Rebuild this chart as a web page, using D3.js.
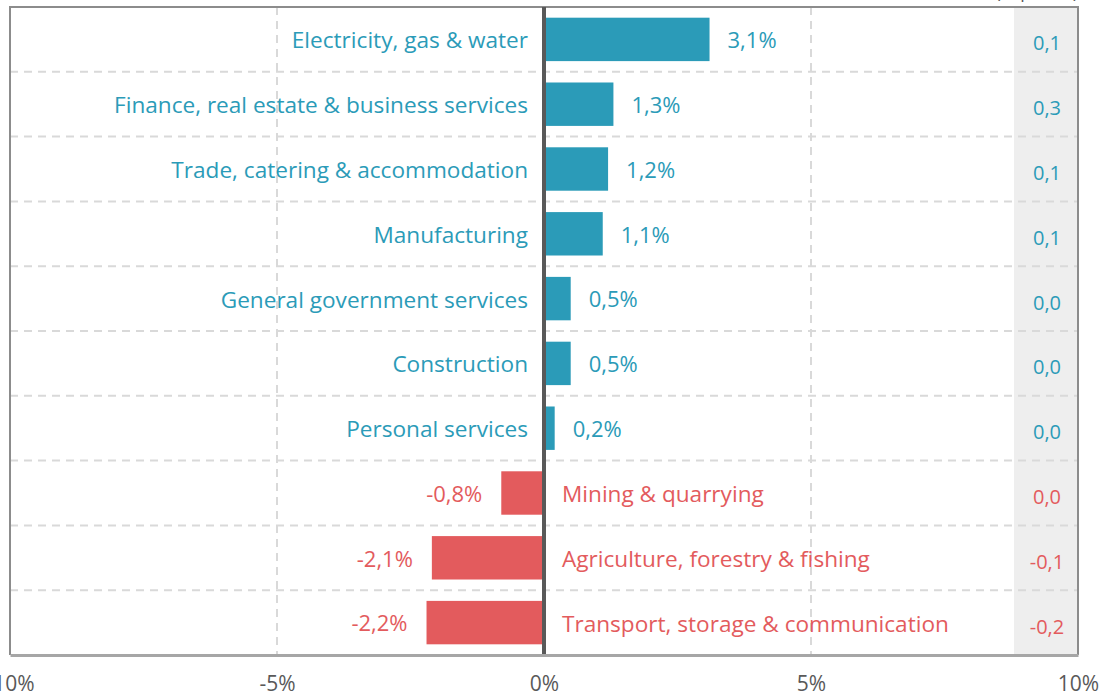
<!DOCTYPE html>
<html>
<head>
<meta charset="utf-8">
<script src="https://cdn.jsdelivr.net/npm/d3@7"></script>
<style>
  body { margin: 0; background: #fff; }
  svg { display: block; font-family: "Open Sans", sans-serif; }
</style>
</head>
<body>
<svg id="main" width="1112" height="696"></svg>
<script>
const width = 1112;
const height = 696;

const sectors = [
  'Electricity, gas & water',
  'Finance, real estate & business services',
  'Trade, catering & accommodation',
  'Manufacturing',
  'General government services',
  'Construction',
  'Personal services',
  'Mining & quarrying',
  'Agriculture, forestry & fishing',
  'Transport, storage & communication'
]
const growth = [3.1, 1.3, 1.2, 1.1, 0.5, 0.5, 0.2, -0.8, -2.1, -2.2]
const contribution = [0.1, 0.3, 0.1, 0.1, 0.0, 0.0, 0.0, 0.0, -0.1, -0.2]
const ticks = [-10, -5, 0, 5, 10]
const unitLabel = '(% points)'

const pos = '#2b9bb8'
const neg = '#e35b5d'
const fmt = v => d3.format('.1f')(v).replace('.', ',').replace('−', '-')

const plotL = 10, plotR = 1078, plotT = 7, plotB = 655

const x = d3.scaleLinear().domain([-10, 10]).range([plotL, plotR])
const y = d3.scaleBand().domain(sectors).range([plotT, plotB]).paddingInner(0.33).paddingOuter(0.165)
const row = (plotB - plotT) / sectors.length

const svg = d3.select('#main')

// grey column for contributions
svg.append('rect')
  .attr('x', 1014).attr('y', plotT)
  .attr('width', plotR - 1014).attr('height', plotB - plotT)
  .attr('fill', '#eeeeee')

// horizontal dashed separators
const grid = svg.append('g')
sectors.slice(1).forEach((s, i) => {
  const yy = plotT + row * (i + 1)
  grid.append('line')
    .attr('x1', plotL).attr('x2', plotR).attr('y1', yy).attr('y2', yy)
    .attr('stroke', '#d9d9d9').attr('stroke-width', 2).attr('stroke-dasharray', '8,6')
})
// vertical dashed grid
ticks.filter(t => t !== 0 && Math.abs(t) !== 10).forEach(t => {
  grid.append('line')
    .attr('x1', x(t)).attr('x2', x(t)).attr('y1', plotT).attr('y2', plotB)
    .attr('stroke', '#d9d9d9').attr('stroke-width', 2).attr('stroke-dasharray', '8,6')
})

// bars
svg.append('g').selectAll('rect')
  .data(sectors)
  .join('rect')
  .attr('x', (d, i) => x(Math.min(0, growth[i])))
  .attr('y', d => y(d))
  .attr('width', (d, i) => Math.abs(x(growth[i]) - x(0)))
  .attr('height', y.bandwidth())
  .attr('fill', (d, i) => growth[i] >= 0 ? pos : neg)

// labels
const labels = svg.append('g')
sectors.forEach((s, i) => {
  const v = growth[i]
  const cy = y(s) + y.bandwidth() / 2
  const col = v >= 0 ? pos : neg
  labels.append('text')
    .attr('x', v >= 0 ? x(0) - 16 : x(0) + 18)
    .attr('y', cy + 1).attr('dy', '0.35em')
    .attr('text-anchor', v >= 0 ? 'end' : 'start')
    .attr('font-size', 22.6)
    .attr('fill', col)
    .text(s)
  labels.append('text')
    .attr('x', v >= 0 ? x(v) + 18 : x(v) - 19)
    .attr('y', cy + 1).attr('dy', '0.35em')
    .attr('text-anchor', v >= 0 ? 'start' : 'end')
    .attr('font-size', 22)
    .attr('fill', col)
    .text(fmt(v) + '%')
  labels.append('text')
    .attr('x', 1047).attr('y', cy + 4).attr('dy', '0.35em')
    .attr('text-anchor', 'middle')
    .attr('font-size', 20)
    .attr('fill', col)
    .text(fmt(contribution[i]))
})

// frame
svg.append('path')
  .attr('d', `M${plotL},${plotB} V${plotT} H${plotR} V${plotB}`)
  .attr('fill', 'none').attr('stroke', '#8c8c8c').attr('stroke-width', 2)

// zero line
svg.append('line')
  .attr('x1', x(0)).attr('x2', x(0)).attr('y1', plotT).attr('y2', plotB)
  .attr('stroke', '#595959').attr('stroke-width', 4)

// x axis
const axis = svg.append('g')
  .attr('transform', `translate(0,${plotB})`)
  .call(d3.axisBottom(x).tickValues(ticks).tickSize(0).tickPadding(21).tickFormat(d => d + '%'))
axis.select('.domain').attr('stroke', '#a6a6a6').attr('stroke-width', 3)
axis.selectAll('text').attr('font-size', 21).attr('fill', '#595959').attr('font-family', '"Open Sans", sans-serif')

// unit label at top right, mostly above the visible area as in the source
svg.append('text')
  .attr('x', plotR).attr('y', -2)
  .attr('text-anchor', 'end')
  .attr('font-size', 18).attr('fill', '#595959')
  .text(unitLabel)
</script>
</body>
</html>
